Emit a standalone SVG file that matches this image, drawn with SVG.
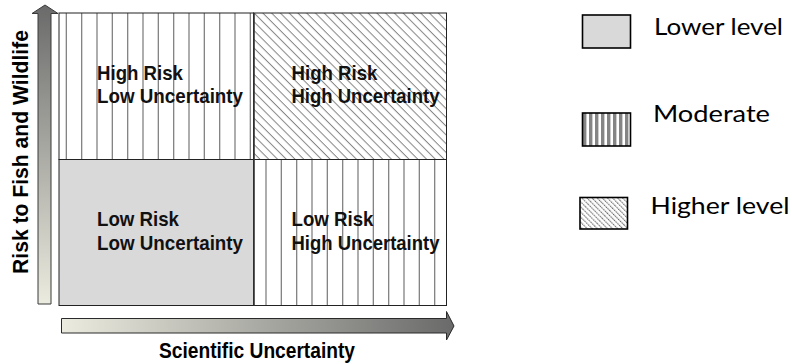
<svg xmlns="http://www.w3.org/2000/svg" width="792" height="364" viewBox="0 0 792 364">
<defs>
<linearGradient id="gv" x1="0" y1="0" x2="0" y2="1">
<stop offset="0" stop-color="#6a6a6a"/>
<stop offset="1" stop-color="#ebebdf"/>
</linearGradient>
<linearGradient id="gh" x1="0" y1="0" x2="1" y2="0">
<stop offset="0" stop-color="#ebebdf"/>
<stop offset="1" stop-color="#6a6a6a"/>
</linearGradient>
<pattern id="diag" width="6.2" height="20" patternUnits="userSpaceOnUse" patternTransform="rotate(-45)">
<line x1="3" y1="0" x2="3" y2="20" stroke="#5a5a5a" stroke-width="0.8"/>
</pattern>
<pattern id="diagS" width="3.6" height="20" patternUnits="userSpaceOnUse" patternTransform="rotate(-45)">
<line x1="1.5" y1="0" x2="1.5" y2="20" stroke="#555" stroke-width="1" stroke-dasharray="1.6 0.8"/>
</pattern>
<pattern id="vstripe" x="583" width="6" height="40" patternUnits="userSpaceOnUse">
<rect x="0" y="0" width="3.4" height="40" fill="#858585"/>
</pattern>
</defs>
<style>
.q{font-family:"Liberation Sans",Arial,sans-serif;font-weight:bold;font-size:21px;fill:#111}
.ax{font-family:"Liberation Sans",Arial,sans-serif;font-weight:bold;font-size:21.5px;fill:#000}
.lg{font-family:Lato,"Noto Sans",sans-serif;font-size:23px;fill:#000}
.vl{stroke:#777;stroke-width:1.2}
.bd{fill:none;stroke:#222;stroke-width:1}
</style>

<g id="quadrant-high-risk-low-uncertainty">
<rect x="59" y="13" width="194.5" height="146.5" fill="#fff"/>
<g class="vl">
<line x1="66.3" y1="13" x2="66.3" y2="159.5"/>
<line x1="81.7" y1="13" x2="81.7" y2="159.5"/>
<line x1="97" y1="13" x2="97" y2="159.5"/>
<line x1="112.3" y1="13" x2="112.3" y2="159.5"/>
<line x1="127.7" y1="13" x2="127.7" y2="159.5"/>
<line x1="143" y1="13" x2="143" y2="159.5"/>
<line x1="158.3" y1="13" x2="158.3" y2="159.5"/>
<line x1="173.7" y1="13" x2="173.7" y2="159.5"/>
<line x1="189" y1="13" x2="189" y2="159.5"/>
<line x1="204.3" y1="13" x2="204.3" y2="159.5"/>
<line x1="219.7" y1="13" x2="219.7" y2="159.5"/>
<line x1="235" y1="13" x2="235" y2="159.5"/>
<line x1="250.3" y1="13" x2="250.3" y2="159.5"/>
</g>
<rect class="bd" x="59" y="13" width="194.5" height="146.5"/>
<text class="q" x="97" y="80" textLength="86" lengthAdjust="spacingAndGlyphs">High Risk</text>
<text class="q" x="97" y="103" textLength="146" lengthAdjust="spacingAndGlyphs">Low Uncertainty</text>
</g>

<g id="quadrant-high-risk-high-uncertainty">
<rect x="253.5" y="13" width="193" height="146.5" fill="#fff"/>
<rect x="253.5" y="13" width="193" height="146.5" fill="url(#diag)"/>
<rect class="bd" x="253.5" y="13" width="193" height="146.5"/>
<text class="q" x="291.5" y="79.5" textLength="86" lengthAdjust="spacingAndGlyphs">High Risk</text>
<text class="q" x="291.5" y="102.5" textLength="148" lengthAdjust="spacingAndGlyphs">High Uncertainty</text>
</g>

<g id="quadrant-low-risk-low-uncertainty">
<rect x="59" y="159.5" width="194.5" height="146" fill="#d9d9d9" stroke="#222" stroke-width="1"/>
<text class="q" x="97" y="226" textLength="82" lengthAdjust="spacingAndGlyphs">Low Risk</text>
<text class="q" x="97" y="250" textLength="146" lengthAdjust="spacingAndGlyphs">Low Uncertainty</text>
</g>

<g id="quadrant-low-risk-high-uncertainty">
<rect x="253.5" y="159.5" width="193" height="146" fill="#fff"/>
<g class="vl">
<line x1="266" y1="159.5" x2="266" y2="305.5"/>
<line x1="281.3" y1="159.5" x2="281.3" y2="305.5"/>
<line x1="296.7" y1="159.5" x2="296.7" y2="305.5"/>
<line x1="312" y1="159.5" x2="312" y2="305.5"/>
<line x1="327.3" y1="159.5" x2="327.3" y2="305.5"/>
<line x1="342.7" y1="159.5" x2="342.7" y2="305.5"/>
<line x1="358" y1="159.5" x2="358" y2="305.5"/>
<line x1="373.3" y1="159.5" x2="373.3" y2="305.5"/>
<line x1="388.7" y1="159.5" x2="388.7" y2="305.5"/>
<line x1="404" y1="159.5" x2="404" y2="305.5"/>
<line x1="419.3" y1="159.5" x2="419.3" y2="305.5"/>
<line x1="434.7" y1="159.5" x2="434.7" y2="305.5"/>
</g>
<rect class="bd" x="253.5" y="159.5" width="193" height="146"/>
<text class="q" x="291.5" y="225.5" textLength="82" lengthAdjust="spacingAndGlyphs">Low Risk</text>
<text class="q" x="291.5" y="250" textLength="148" lengthAdjust="spacingAndGlyphs">High Uncertainty</text>
</g>
<line x1="254" y1="13" x2="254" y2="305.5" stroke="#333" stroke-width="1.6"/>

<g id="connectors">
<path id="y-axis" d="M38,304 L38,13.5 L32,13.5 L45,5 L58,13.5 L51,13.5 L51,304 Z" fill="url(#gv)" stroke="#3a3a3a" stroke-width="1"/>
<path id="x-axis" d="M61.5,318.5 L446.5,318.5 L446.5,311.5 L454,326 L446.5,340 L446.5,333 L61.5,333 Z" fill="url(#gh)" stroke="#2a2a2a" stroke-width="1"/>
</g>

<g id="axis-labels">
<text class="ax" transform="translate(28,152) rotate(-90)" text-anchor="middle" textLength="244" lengthAdjust="spacingAndGlyphs">Risk to Fish and Wildlife</text>
<text class="ax" x="257" y="357.5" text-anchor="middle" textLength="196" lengthAdjust="spacingAndGlyphs">Scientific Uncertainty</text>
</g>

<g id="legend-lower">
<rect x="582.5" y="15" width="48" height="33" fill="#d9d9d9" stroke="#000" stroke-width="1.6"/>
<text class="lg" x="654" y="35" textLength="129" lengthAdjust="spacingAndGlyphs">Lower level</text>
</g>
<g id="legend-moderate">
<rect x="582.5" y="113" width="48" height="33" fill="#fff"/>
<rect x="582.5" y="113" width="48" height="33" fill="url(#vstripe)" stroke="#000" stroke-width="1.6"/>
<text class="lg" x="653" y="122" textLength="117" lengthAdjust="spacingAndGlyphs">Moderate</text>
</g>
<g id="legend-higher">
<rect x="580" y="197.5" width="47.5" height="31.5" fill="#fff"/>
<rect x="580" y="197.5" width="47.5" height="31.5" fill="url(#diagS)" stroke="#000" stroke-width="1.6"/>
<text class="lg" x="650.5" y="213.5" textLength="139" lengthAdjust="spacingAndGlyphs">Higher level</text>
</g>
</svg>
